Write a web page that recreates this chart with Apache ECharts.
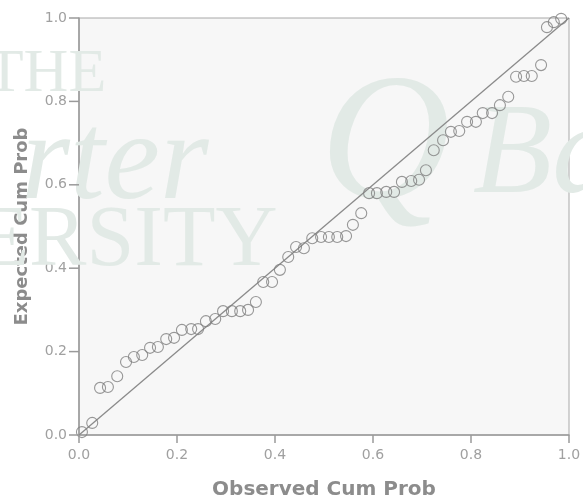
<!DOCTYPE html>
<html>
<head>
<meta charset="utf-8">
<script src="https://cdn.jsdelivr.net/npm/echarts@6/dist/echarts.min.js"></script>
<style>
  html, body { margin: 0; padding: 0; background: #fff; }
  #main { width: 583px; height: 501px; }
</style>
</head>
<body>
<div id="main"></div>
<script>
// observed cumulative probability (x) and expected cumulative probability (y)
const observed = [
  0.006, 0.027, 0.043, 0.059, 0.078, 0.096, 0.112, 0.129, 0.145, 0.161,
  0.178, 0.194, 0.210, 0.229, 0.243, 0.259, 0.278, 0.294, 0.312, 0.329,
  0.345, 0.361, 0.376, 0.394, 0.410, 0.427, 0.443, 0.459, 0.476, 0.494,
  0.510, 0.527, 0.545, 0.559, 0.576, 0.592, 0.608, 0.627, 0.643, 0.659,
  0.678, 0.694, 0.708, 0.724, 0.743, 0.759, 0.776, 0.792, 0.810, 0.824,
  0.843, 0.859, 0.876, 0.892, 0.908, 0.924, 0.943, 0.955, 0.969, 0.984
];
const expected = [
  0.007, 0.029, 0.113, 0.115, 0.141, 0.175, 0.187, 0.192, 0.209, 0.211,
  0.230, 0.233, 0.252, 0.254, 0.254, 0.273, 0.278, 0.297, 0.297, 0.297,
  0.300, 0.319, 0.367, 0.367, 0.396, 0.427, 0.451, 0.448, 0.472, 0.475,
  0.475, 0.475, 0.477, 0.504, 0.532, 0.580, 0.580, 0.583, 0.583, 0.607,
  0.609, 0.612, 0.635, 0.683, 0.707, 0.727, 0.729, 0.751, 0.751, 0.772,
  0.772, 0.791, 0.811, 0.859, 0.861, 0.861, 0.887, 0.978, 0.990, 0.998
];
const tickValues = [0, 0.2, 0.4, 0.6, 0.8, 1.0];
const refLine = [[0, 0], [1, 1]];
const axisMin = 0, axisMax = 1, axisStep = 0.2;

const points = observed.map((v, i) => [v, expected[i]]);
const gray = '#9a9a9a';
const wm = '#e2eae6';

// faint watermark behind the plot
function mark(text, x, y, font) {
  return { type: 'text', x: x, y: y, z: 1, silent: true,
    style: { text: text, font: font, fill: wm, align: 'center', verticalAlign: 'middle' } };
}

// outward tick marks drawn through the axes' own scale
function renderTicks(params, api) {
  const v = api.value(0);
  const bx = api.coord([v, axisMin]);
  const by = api.coord([axisMin, v]);
  const st = { stroke: gray, lineWidth: 1.5 };
  return {
    type: 'group',
    children: [
      { type: 'line', shape: { x1: bx[0], y1: bx[1], x2: bx[0], y2: bx[1] + 8 }, style: st },
      { type: 'line', shape: { x1: by[0] - 10, y1: by[1], x2: by[0], y2: by[1] }, style: st }
    ]
  };
}

const chart = echarts.init(document.getElementById('main'));
chart.setOption({
  backgroundColor: '#fff',
  animation: false,
  grid: {
    left: 79, right: 14, top: 18, bottom: 66,
    outerBoundsMode: 'none',
    show: true, backgroundColor: '#f7f7f7', borderColor: '#a8a8a8', borderWidth: 1
  },
  graphic: [
    mark('THE', 46, 75, '62px "Liberation Serif"'),
    mark('VERSITY', 96, 242, '86px "Liberation Serif"'),
    mark('rter', 115, 165, 'italic 125px "Liberation Serif"'),
    mark('Q', 385, 150, 'italic 180px "Liberation Serif"'),
    mark('Ba', 545, 158, 'italic 130px "Liberation Serif"')
  ],
  xAxis: {
    type: 'value', min: axisMin, max: axisMax, interval: axisStep,
    name: 'Observed Cum Prob', nameLocation: 'middle', nameGap: 45,
    nameTextStyle: { color: '#8c8c8c', fontSize: 20, fontWeight: 'bold', fontFamily: 'DejaVu Sans' },
    axisLine: { show: true, onZero: false, lineStyle: { color: gray, width: 1.5 } },
    axisTick: { show: false },
    axisLabel: { color: '#a0a0a0', fontSize: 14, margin: 13, fontFamily: 'DejaVu Sans',
      formatter: v => v.toFixed(1) },
    splitLine: { show: false }
  },
  yAxis: {
    type: 'value', min: axisMin, max: axisMax, interval: axisStep,
    name: 'Expected Cum Prob', nameLocation: 'middle', nameGap: 48,
    nameTextStyle: { color: '#8c8c8c', fontSize: 18, fontWeight: 'bold', fontFamily: 'DejaVu Sans' },
    axisLine: { show: true, onZero: false, lineStyle: { color: gray, width: 1.5 } },
    axisTick: { show: false },
    axisLabel: { color: '#a0a0a0', fontSize: 14, margin: 12, fontFamily: 'DejaVu Sans',
      formatter: v => v.toFixed(1) },
    splitLine: { show: false }
  },
  series: [
    {
      type: 'custom', data: tickValues.map(v => [v]), renderItem: renderTicks,
      clip: false, silent: true, z: 6
    },
    {
      type: 'line', data: refLine, symbol: 'none', z: 3,
      lineStyle: { color: '#8a8a8a', width: 1.3 }
    },
    {
      type: 'scatter', data: points, symbol: 'circle', symbolSize: 11, z: 4,
      itemStyle: { color: 'rgba(0,0,0,0)', borderColor: '#7e7e7e', borderWidth: 1.1 }
    }
  ]
});
</script>
</body>
</html>
